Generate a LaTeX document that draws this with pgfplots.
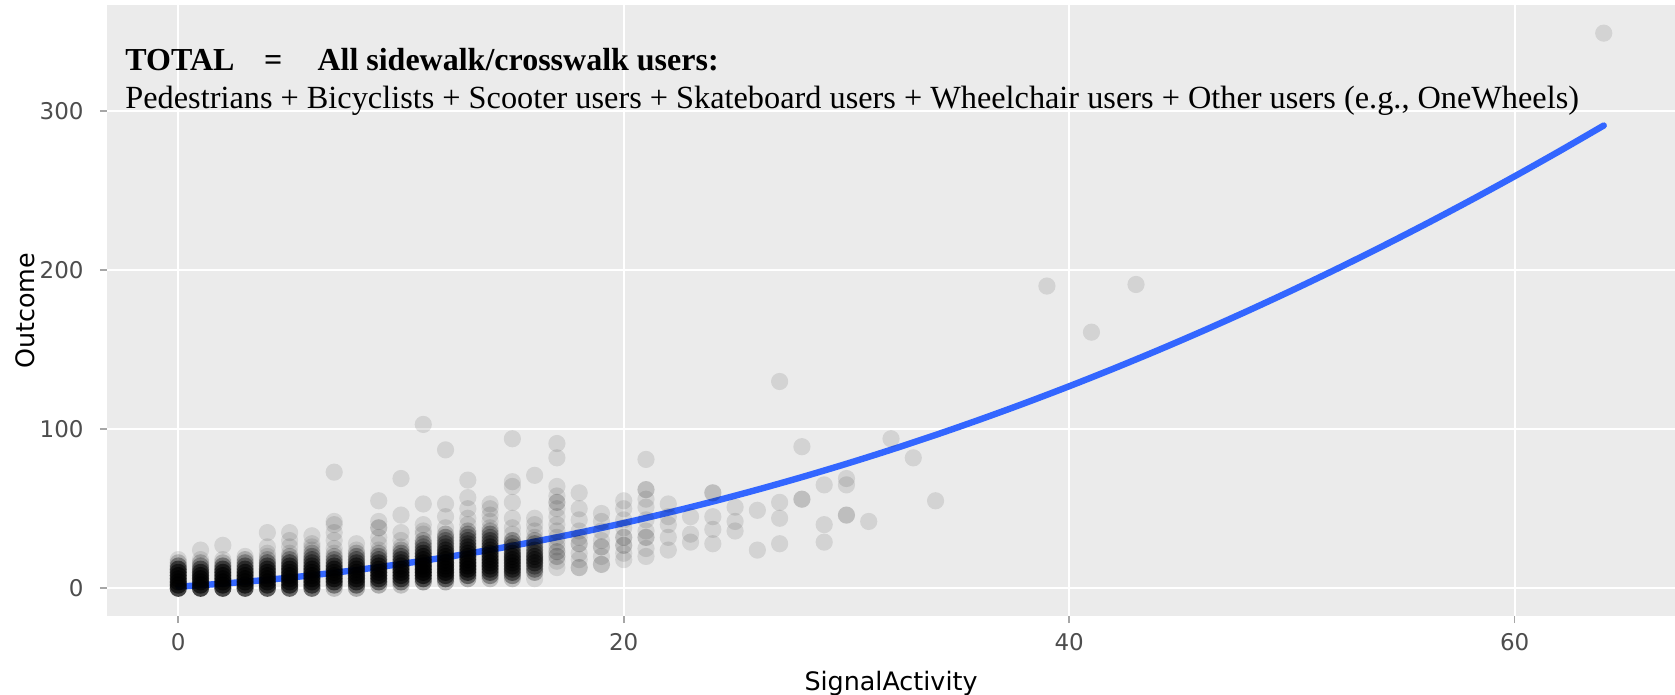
\documentclass[border=0pt]{standalone}
\usepackage{pgfplots}
\pgfplotsset{compat=1.18}
\usepackage{pgfplotstable}
\usepackage{fontspec}
\setmainfont{Liberation Serif}
\newfontfamily\axfont{DejaVu Sans}

\definecolor{panelgray}{HTML}{EBEBEB}
\definecolor{fitblue}{HTML}{3366FF}
\definecolor{labgray}{HTML}{4D4D4D}

% x = SignalActivity, y = Outcome, n = how many observations share that value
\pgfplotstableread{
x y n
0 0 12
0 2 10
0 4 10
0 6 9
0 8 9
0 10 8
0 12 7
0 14 4
0 16 2
0 18 1
1 0 12
1 2 10
1 4 9
1 6 9
1 8 8
1 10 7
1 12 5
1 14 3
1 16 2
1 18 1
1 24 1
2 0 11
2 2 10
2 4 10
2 6 9
2 8 8
2 10 8
2 12 6
2 14 4
2 16 2
2 18 1
2 27 1
3 0 10
3 2 10
3 4 9
3 6 9
3 8 8
3 10 8
3 12 6
3 14 4
3 16 3
3 18 2
3 20 1
4 0 9
4 2 9
4 4 9
4 6 9
4 8 8
4 10 8
4 12 7
4 14 5
4 16 4
4 18 2
4 20 1
4 22 1
4 26 1
4 35 1
5 0 8
5 2 9
5 4 9
5 6 9
5 8 9
5 10 8
5 12 8
5 14 6
5 16 5
5 18 3
5 20 2
5 22 1
5 26 1
5 30 1
5 35 1
6 0 7
6 2 8
6 4 9
6 6 9
6 8 9
6 10 8
6 12 8
6 14 6
6 16 5
6 18 4
6 20 3
6 22 2
6 24 1
6 26 1
6 28 1
6 33 1
7 0 2
7 2 5
7 4 8
7 6 9
7 8 9
7 10 8
7 12 8
7 14 6
7 16 4
7 18 3
7 20 2
7 22 1
7 25 1
7 30 1
7 35 1
7 40 1
7 42 1
7 73 1
8 0 3
8 2 6
8 4 8
8 6 9
8 8 9
8 10 8
8 12 8
8 14 7
8 16 5
8 18 4
8 20 3
8 22 2
8 24 1
8 28 1
9 2 3
9 4 6
9 6 8
9 8 9
9 10 8
9 12 8
9 14 7
9 16 6
9 18 4
9 20 3
9 22 2
9 24 1
9 28 1
9 32 1
9 38 2
9 42 1
9 55 1
10 2 2
10 4 5
10 6 7
10 8 8
10 10 8
10 12 8
10 14 7
10 16 6
10 18 5
10 20 4
10 22 3
10 24 2
10 26 1
10 30 1
10 35 1
10 46 1
10 69 1
11 4 4
11 6 7
11 8 10
11 10 11
11 12 11
11 14 11
11 16 10
11 18 8
11 20 7
11 22 6
11 24 4
11 26 3
11 28 3
11 30 2
11 34 1
11 36 1
11 40 1
11 53 1
11 103 1
12 4 3
12 6 6
12 8 8
12 10 10
12 12 10
12 14 10
12 16 10
12 18 8
12 20 8
12 22 7
12 24 6
12 26 4
12 28 4
12 30 3
12 32 3
12 34 2
12 38 1
12 45 1
12 53 1
12 87 1
13 6 3
13 8 6
13 10 8
13 12 10
13 14 10
13 16 10
13 18 8
13 20 8
13 22 7
13 24 6
13 26 6
13 28 4
13 30 4
13 32 3
13 34 3
13 36 2
13 40 1
13 44 1
13 50 1
13 57 1
13 68 1
14 6 2
14 8 4
14 10 6
14 12 7
14 14 8
14 16 8
14 18 8
14 20 7
14 22 7
14 24 6
14 26 6
14 28 4
14 30 4
14 32 3
14 34 3
14 36 2
14 38 1
14 42 1
14 46 1
14 50 1
14 53 1
15 6 2
15 8 4
15 10 6
15 12 7
15 14 7
15 16 7
15 18 7
15 20 7
15 22 6
15 24 4
15 26 4
15 28 3
15 30 3
15 34 1
15 38 1
15 44 1
15 54 1
15 64 1
15 67 1
15 94 1
16 6 1
16 10 3
16 12 4
16 14 4
16 16 6
16 18 6
16 20 6
16 22 4
16 24 4
16 26 3
16 28 3
16 30 2
16 32 1
16 36 1
16 40 1
16 44 1
16 71 1
17 13 1
17 17 1
17 20 2
17 23 2
17 26 1
17 29 1
17 32 1
17 36 1
17 40 1
17 45 1
17 50 1
17 54 2
17 58 1
17 64 1
17 82 1
17 91 1
18 13 2
18 18 1
18 22 1
18 28 2
18 32 1
18 36 1
18 43 1
18 50 1
18 60 1
19 15 2
19 20 1
19 26 2
19 30 1
19 36 1
19 42 1
19 47 1
20 18 1
20 22 1
20 27 2
20 32 2
20 38 1
20 43 1
20 50 1
20 55 1
21 20 1
21 25 1
21 32 2
21 36 1
21 43 1
21 51 1
21 56 1
21 62 2
21 81 1
22 24 1
22 32 1
22 40 1
22 45 1
22 53 1
23 29 1
23 34 1
23 45 1
24 28 1
24 37 1
24 45 1
24 60 2
25 36 1
25 42 1
25 51 1
26 24 1
26 49 1
27 28 1
27 44 1
27 54 1
27 130 1
28 56 2
28 89 1
29 29 1
29 40 1
29 65 1
30 46 2
30 65 1
30 69 1
31 42 1
32 94 1
33 82 1
34 55 1
39 190 1
41 161 1
43 191 1
64 349 1
}\obsdata

\begin{document}
\begin{tikzpicture}
\begin{axis}[
    scale only axis,
    width=784pt, height=305.3pt,
    xmin=-3.2, xmax=67.2,
    ymin=-17.45, ymax=366.45,
    axis background/.style={fill=panelgray},
    axis line style={draw=none},
    xtick={0,20,40,60},
    ytick={0,100,200,300},
    xtick pos=left, ytick pos=left,
    tick align=outside,
    major tick length=3.5pt,
    tick style={color=gray!70, line width=0.8pt},
    grid=major,
    major grid style={white, line width=1pt},
    /pgf/number format/assume math mode=true,
    ticklabel style={font=\axfont\fontsize{11.5}{13}\selectfont, text=labgray},
    yticklabel style={inner sep=0pt, anchor=east, xshift=-8pt},
    xticklabel style={inner sep=0pt, anchor=north, yshift=-5pt},
    xlabel={SignalActivity},
    ylabel={Outcome},
    xlabel style={at={(axis description cs:0.5,-0.11)}, anchor=center,
        font=\axfont\fontsize{12.7}{15}\selectfont},
    ylabel style={at={(axis description cs:-0.0523,0.5)}, anchor=center,
        font=\axfont\fontsize{12.7}{15}\selectfont},
]
\addplot[scatter, only marks, mark=*, mark size=4.3pt,
    point meta=explicit symbolic,
    scatter/@pre marker code/.code={%
        \pgfmathsetmacro\op{1-0.9^(\pgfplotspointmeta)}%
        \scope[fill=black, fill opacity=\op, draw opacity=0]},
    scatter/@post marker code/.code={\endscope},
] table[x=x, y=y, meta=n] {\obsdata};

\addplot[color=fitblue, line width=3.2pt, smooth, line cap=round] coordinates {
    (0,1.0) (2,2.93) (4,5.32) (6,8.17) (8,11.48) (10,15.25) (12,19.48)
    (14,24.17) (16,29.32) (18,34.93) (20,41.0) (22,47.53) (24,54.52)
    (26,61.97) (28,69.88) (30,78.25) (32,87.08) (34,96.37) (36,106.12)
    (38,116.33) (40,127.0) (42,138.13) (44,149.72) (46,161.77) (48,174.28)
    (50,187.25) (52,200.68) (54,214.57) (56,228.92) (58,243.73) (60,259.0)
    (62,274.73) (64,290.92)
};

\node[anchor=base west, inner sep=0pt, font=\bfseries\fontsize{16}{19}\selectfont]
    at (rel axis cs:0.0115,0.894) {TOTAL};
\node[anchor=base west, inner sep=0pt, font=\bfseries\fontsize{16}{19}\selectfont]
    at (rel axis cs:0.1000,0.894) {=};
\node[anchor=base west, inner sep=0pt, font=\bfseries\fontsize{16}{19}\selectfont]
    at (rel axis cs:0.1340,0.894) {All sidewalk/crosswalk users:};
\node[anchor=base west, inner sep=0pt, font=\fontsize{16.15}{19}\selectfont]
    at (rel axis cs:0.0115,0.8315)
    {Pedestrians + Bicyclists + Scooter users + Skateboard users + Wheelchair users + Other users (e.g., OneWheels)};
\end{axis}
\pgfresetboundingbox
\path[use as bounding box]
    ([xshift=-53.5pt,yshift=-39pt]current axis.south west)
    rectangle ([yshift=2.7pt]current axis.north east);
\end{tikzpicture}
\end{document}
